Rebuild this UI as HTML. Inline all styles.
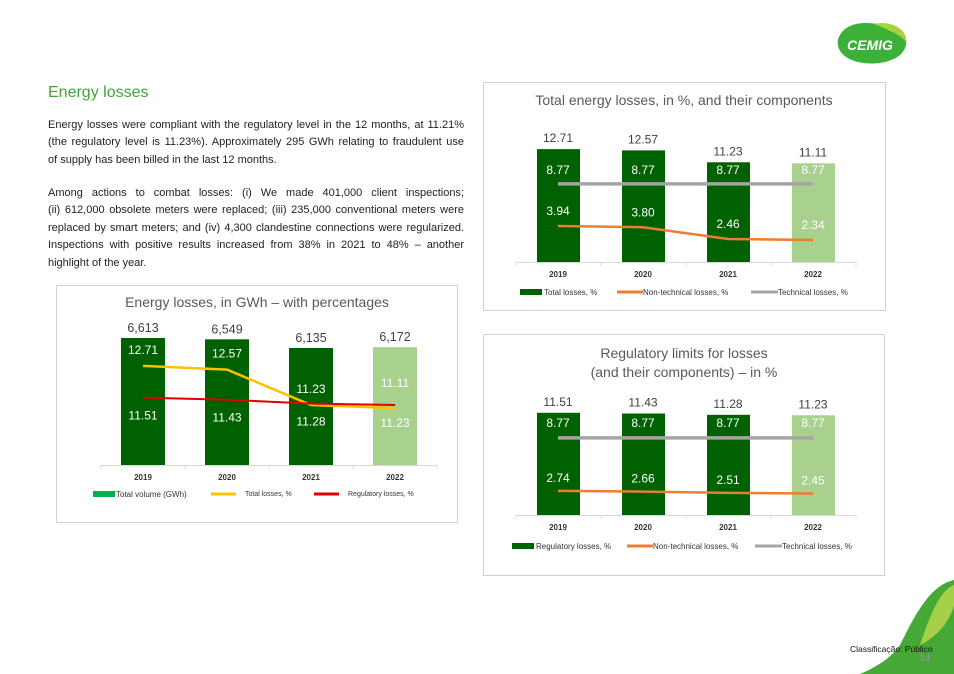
<!DOCTYPE html>
<html><head><meta charset="utf-8"><style>
body{margin:0;background:#fff;font-family:"Liberation Sans",sans-serif;}
#page{position:relative;width:954px;height:674px;overflow:hidden;background:#fff;}
.h{position:absolute;left:48px;top:84px;color:#3fa535;font-size:16px;}
.p{position:absolute;left:48px;width:416px;font-size:11px;line-height:17.4px;color:#222;}
.p span{display:block;white-space:nowrap;text-align:justify;text-align-last:justify;}
.p span.last{text-align-last:left;}
svg text{font-family:"Liberation Sans",sans-serif;}
</style></head><body>
<div id="page">
<div class="h">Energy losses</div>
<div class="p" style="top:117px"><span>Energy losses were compliant with the regulatory level in the 12 months, at 11.21%</span><span>(the regulatory level is 11.23%). Approximately 295 GWh relating to fraudulent use</span><span class="last">of supply has been billed in the last 12 months.</span></div>
<div class="p" style="top:185px"><span>Among actions to combat losses: (i) We made 401,000 client inspections;</span><span>(ii) 612,000 obsolete meters were replaced; (iii) 235,000 conventional meters were</span><span>replaced by smart meters; and (iv) 4,300 clandestine connections were regularized.</span><span>Inspections with positive results increased from 38% in 2021 to 48% – another</span><span class="last">highlight of the year.</span></div>

<svg id="logo" style="position:absolute;left:834px;top:20px" width="76" height="46">
<path d="M8,12 C20,-2 45,4 55,6 C70,8 76,20 70,30 C64,42 40,46 24,42 C6,38 -2,24 8,12Z" fill="#3db039"/>
<path d="M40,4 C58,0 74,10 72,22 C66,14 54,10 40,4Z" fill="#a6d33a"/>
<text x="36" y="30" font-size="14" font-weight="bold" fill="#fff" text-anchor="middle" font-style="italic">CEMIG</text>
</svg>
<svg style="position:absolute;left:840px;top:575px" width="114" height="99">
<path d="M114,5 C90,10 75,40 60,70 C50,85 30,95 20,99 L114,99Z" fill="#46a935"/>
<path d="M114,10 C100,15 90,40 80,70 C100,60 110,45 114,30Z" fill="#a6cf4a"/>
<text x="10" y="77" font-size="8.5" fill="#111">Classificação: Público</text>
<text x="80" y="86" font-size="9" fill="#9b9b9b">14</text>
</svg>

<svg id="c1" style="position:absolute;left:0;top:0" width="954" height="674">
<rect x="56.5" y="285.5" width="401" height="237" fill="none" stroke="#d0d0d0"/>
<rect x="483.5" y="82.5" width="402" height="228" fill="none" stroke="#d0d0d0"/>
<rect x="483.5" y="334.5" width="401" height="241" fill="none" stroke="#d0d0d0"/>
<text x="257" y="307" font-size="14" fill="#595959" text-anchor="middle">Energy losses, in GWh – with percentages</text>
<text x="684" y="105" font-size="14" fill="#595959" text-anchor="middle">Total energy losses, in %, and their components</text>
<text x="684" y="358" font-size="14" fill="#595959" text-anchor="middle">Regulatory limits for losses</text>
<text x="684" y="377" font-size="14" fill="#595959" text-anchor="middle">(and their components) – in %</text>
</svg>
<script>
const years=["2019","2020","2021","2022"];
const volumeGWh=[6613,6549,6135,6172];
const volumeLabels=["6,613","6,549","6,135","6,172"];
const totalLossPct=[12.71,12.57,11.23,11.11];
const regulatoryLossPct=[11.51,11.43,11.28,11.23];
const technicalPct=[8.77,8.77,8.77,8.77];
const nonTechnicalPct=[3.94,3.80,2.46,2.34];
const regTechnicalPct=[8.77,8.77,8.77,8.77];
const regNonTechnicalPct=[2.74,2.66,2.51,2.45];

const svg=document.getElementById('c1');
const NS='http://www.w3.org/2000/svg';
function mk(tag,attrs,parent){const e=document.createElementNS(NS,tag);for(const k in attrs)e.setAttribute(k,attrs[k]);(parent||svg).appendChild(e);return e;}
function txt(x,y,s,size,fill,extra){const t=mk('text',Object.assign({x:x,y:y,'font-size':size,fill:fill,'text-anchor':'middle'},extra||{}));t.textContent=s;return t;}
const barColor=i=>i===3?'#a9d18e':'#006100';
function fmt(v){return v.toFixed(2);}

// ---------- Chart 1 ----------
(function(){
const xs=i=>143+i*84, base=465, yb=v=>base-(v-542)*0.02092, yl=v=>405-(v-11.23)*26.4;
mk('line',{x1:101,y1:base+0.5,x2:437,y2:base+0.5,stroke:'#d9d9d9'});
for(let i=0;i<5;i++)mk('line',{x1:101+i*84,y1:base,x2:101+i*84,y2:base+4,stroke:'#d9d9d9'});
volumeGWh.forEach((v,i)=>{const r=mk('rect',{x:xs(i)-22,y:yb(v),width:44,height:base-yb(v),fill:barColor(i)});


const t=txt(xs(i),yb(v)-6,volumeLabels[i],12.5,'#404040');


const a=txt(xs(i),base+15,years[i],8,'#333',{'font-weight':'bold'});

});
let d='';totalLossPct.forEach((v,i)=>{d+=(i?'L':'M')+xs(i)+','+yl(v);});
const l1=mk('path',{d:d,stroke:'#ffc000',fill:'none','stroke-width':2.5});


d='';regulatoryLossPct.forEach((v,i)=>{d+=(i?'L':'M')+xs(i)+','+yl(v);});
const l2=mk('path',{d:d,stroke:'#e00000',fill:'none','stroke-width':2});


totalLossPct.forEach((v,i)=>{const t=txt(xs(i),yl(v)-(i===3?21:12),fmt(v),12,'#fff');

});
regulatoryLossPct.forEach((v,i)=>{const t=txt(xs(i),yl(v)+22,fmt(v),12,'#fff');

});
const g=mk('g',{});


mk('rect',{x:93,y:491,width:22,height:6,fill:'#00b050'},g);
txt(116,497,'Total volume (GWh)',8,'#333',{'text-anchor':'start'});
mk('line',{x1:211,y1:494,x2:236,y2:494,stroke:'#ffc000','stroke-width':3},g);
txt(245,496,'Total losses, %',7,'#333',{'text-anchor':'start'});
mk('line',{x1:314,y1:494,x2:339,y2:494,stroke:'#e00000','stroke-width':3},g);
txt(348,496,'Regulatory losses, %',7,'#333',{'text-anchor':'start'});
})();

// ---------- Chart 2 & 3 ----------
function comp(cfg){
const xs=i=>558+i*85, base=cfg.base;
const yb=v=>base-v*8.88, yl=v=>base-cfg.off-v*cfg.k;
mk('line',{x1:516,y1:base+0.5,x2:856,y2:base+0.5,stroke:'#d9d9d9'});
for(let i=0;i<5;i++)mk('line',{x1:516+i*85,y1:base,x2:516+i*85,y2:base+4,stroke:'#d9d9d9'});
cfg.tot.forEach((v,i)=>{const r=mk('rect',{x:xs(i)-21,y:yb(v),width:43,height:base-yb(v),fill:barColor(i)});


const t=txt(xs(i),yb(v)-7,fmt(v),12,'#404040');


const a=txt(xs(i),base+15,years[i],8,'#333',{'font-weight':'bold'});

});
let d='';cfg.tech.forEach((v,i)=>{d+=(i?'L':'M')+xs(i)+','+yl(v);});
const l1=mk('path',{d:d,stroke:'#a5a5a5',fill:'none','stroke-width':3.5});


d='';cfg.non.forEach((v,i)=>{d+=(i?'L':'M')+xs(i)+','+yl(v);});
const l2=mk('path',{d:d,stroke:'#ed7d31',fill:'none','stroke-width':2.5});


cfg.tech.forEach((v,i)=>{const t=txt(xs(i),cfg.techLabelY,fmt(v),12,'#fff');

});
cfg.non.forEach((v,i)=>{const t=txt(xs(i),yl(v)-cfg.nlo,fmt(v),12,'#fff');

});
const ly=cfg.legY,L=cfg.leg;
const g=mk('g',{});


mk('rect',{x:L[0],y:ly-3,width:22,height:6,fill:'#006100'},g);
txt(L[0]+24,ly+3,cfg.barName,8,'#333',{'text-anchor':'start'});
mk('line',{x1:L[1],y1:ly,x2:L[1]+26,y2:ly,stroke:'#ed7d31','stroke-width':3},g);
txt(L[1]+26,ly+3,'Non-technical losses, %',8,'#333',{'text-anchor':'start'});
mk('line',{x1:L[2],y1:ly,x2:L[2]+27,y2:ly,stroke:'#a5a5a5','stroke-width':3},g);
txt(L[2]+27,ly+3,'Technical losses, %',8,'#333',{'text-anchor':'start'});
}
comp({id:'chart2',base:262,tot:totalLossPct,tech:technicalPct,non:nonTechnicalPct,k:8.72,off:1.6,techLabelY:174,nlo:11,legY:292,leg:[520,617,751],barName:'Total losses, %'});
comp({id:'chart3',base:515,tot:regulatoryLossPct,tech:regTechnicalPct,non:regNonTechnicalPct,k:8.8,off:0,techLabelY:427,nlo:9,legY:546,leg:[512,627,755],barName:'Regulatory losses, %'});
</script>
</div>
</body></html>
